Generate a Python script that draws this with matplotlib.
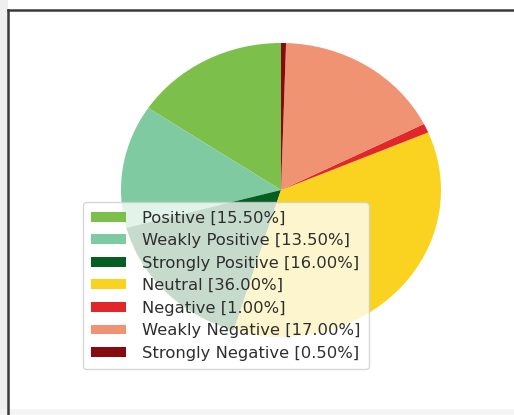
import matplotlib
matplotlib.use("Agg")
import matplotlib.pyplot as plt
from matplotlib.patches import Rectangle
from matplotlib.lines import Line2D

labels = ["Positive", "Weakly Positive", "Strongly Positive", "Neutral",
          "Negative", "Weakly Negative", "Strongly Negative"]
values = [15.50, 13.50, 16.00, 36.00, 1.00, 17.00, 0.50]
colors = ["#7cc04b", "#7fcaa0", "#075e22", "#f9d320", "#e0282a", "#ef9373", "#870a10"]

W, H = 514, 415
fig = plt.figure(figsize=(W / 100, H / 100), dpi=100)
fig.patch.set_facecolor("white")

# screenshot frame: light strip on left/bottom and dark border line top/left
fig.add_artist(Rectangle((0, 0), 8 / W, 1, transform=fig.transFigure,
                         facecolor="#efefef", edgecolor="none", zorder=0))
fig.add_artist(Rectangle((0, 0), 1, 6 / H, transform=fig.transFigure,
                         facecolor="#f4f4f4", edgecolor="none", zorder=0))
fig.add_artist(Line2D([8 / W, 1], [1 - 10 / H, 1 - 10 / H], transform=fig.transFigure,
                      color="#3a3a3a", lw=1.8, zorder=5))
fig.add_artist(Line2D([8 / W, 8 / W], [0, 1 - 10 / H], transform=fig.transFigure,
                      color="#3a3a3a", lw=1.8, zorder=5))

# pie axes: center ~ (281,190) px, radii ~160 x 147 px
rx, ry = 160, 147
cx, cy = 281, 190
aw, ah = 2.5 * rx, 2.5 * ry
ax = fig.add_axes([(cx - aw / 2) / W, 1 - (cy + ah / 2) / H, aw / W, ah / H])
wedges, _ = ax.pie(values, colors=colors, startangle=90, counterclock=True)
ax.set_aspect("auto")
ax.set_xlim(-1.25, 1.25)
ax.set_ylim(-1.25, 1.25)

leg_labels = [f"{l} [{v:.2f}%]" for l, v in zip(labels, values)]
leg = ax.legend(wedges, leg_labels, loc="lower left",
                bbox_to_anchor=(83 / W, 1 - 369 / H), bbox_transform=fig.transFigure,
                fontsize=11.8, handlelength=2.1, handleheight=0.55, handletextpad=1.0,
                framealpha=0.78, borderaxespad=0, labelspacing=0.46, borderpad=0.5)
for t in leg.get_texts():
    t.set_color("#2e2e2e")

fig.savefig("out.png", dpi=100)
